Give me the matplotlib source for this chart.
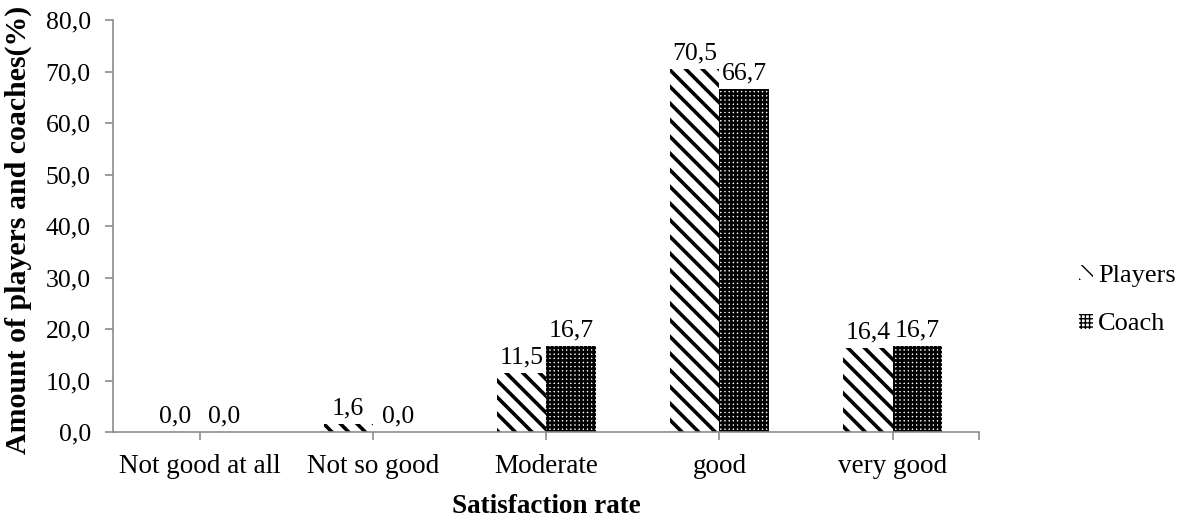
import matplotlib
matplotlib.use("Agg")
import matplotlib.pyplot as plt
import numpy as np

categories = ["Not good at all", "Not so good", "Moderate", "good", "very good"]
players = [0.0, 1.6, 11.5, 70.5, 16.4]
coach = [0.0, 0.0, 16.7, 66.7, 16.7]
y_ticks = [0, 10, 20, 30, 40, 50, 60, 70, 80]

plt.rcParams["font.family"] = ["Liberation Serif", "DejaVu Serif"]


def fmt(v):
    return f"{v:.1f}".replace(".", ",")


fig = plt.figure(figsize=(11.9, 5.18), dpi=100)
ax = fig.add_axes([0.095, 0.166, 0.728, 0.795])

x = np.arange(len(categories))
w = 0.285
grey = "#8c8c8c"

with plt.rc_context({"hatch.linewidth": 2.6, "hatch.color": "black"}):
    b1 = ax.bar(x - w / 2, players, w, color="white", edgecolor="black",
                hatch="\\\\", linewidth=0, label="Players")
with plt.rc_context({"hatch.linewidth": 1.9, "hatch.color": "black"}):
    b2 = ax.bar(x + w / 2, coach, w, color="white", edgecolor="black",
                hatch="++++", linewidth=0, label="Coach")

for bars, vals in [(b1, players), (b2, coach)]:
    for rect, v in zip(bars, vals):
        ax.annotate(fmt(v), (rect.get_x() + rect.get_width() / 2, v),
                    xytext=(0, 3), textcoords="offset points",
                    ha="center", va="bottom", fontsize=18.5)

ax.set_xlim(-0.5, 4.5)
ax.set_ylim(0, 80)
ax.set_yticks(y_ticks)
ax.set_yticklabels([fmt(t) for t in y_ticks], fontsize=18.5)
ax.set_xticks(x)
ax.set_xticklabels(categories, fontsize=19.5)
ax.set_xticks([4.5], minor=True)
ax.tick_params(axis="both", colors=grey, labelcolor="black", length=6, width=1.2)
ax.tick_params(axis="x", which="minor", colors=grey, length=6, width=1.2)
ax.tick_params(axis="x", pad=10)
ax.tick_params(axis="y", pad=10)

for s in ["top", "right"]:
    ax.spines[s].set_visible(False)
for s in ["left", "bottom"]:
    ax.spines[s].set_color(grey)
    ax.spines[s].set_linewidth(1.2)

ax.set_xlabel("Satisfaction rate", fontsize=19.5, fontweight="bold")
ax.set_ylabel("Amount of players and coaches(%)", fontsize=21.5, fontweight="bold")
ax.xaxis.set_label_coords(0.5, -0.15)
ax.yaxis.set_label_coords(-0.094, 0.49)

ax.legend(loc="center left", bbox_to_anchor=(1.088, 0.32), frameon=False,
          fontsize=19, handlelength=0.5, handleheight=0.5, handletextpad=0.2,
          labelspacing=1.0)

fig.savefig("out.png", dpi=100)
